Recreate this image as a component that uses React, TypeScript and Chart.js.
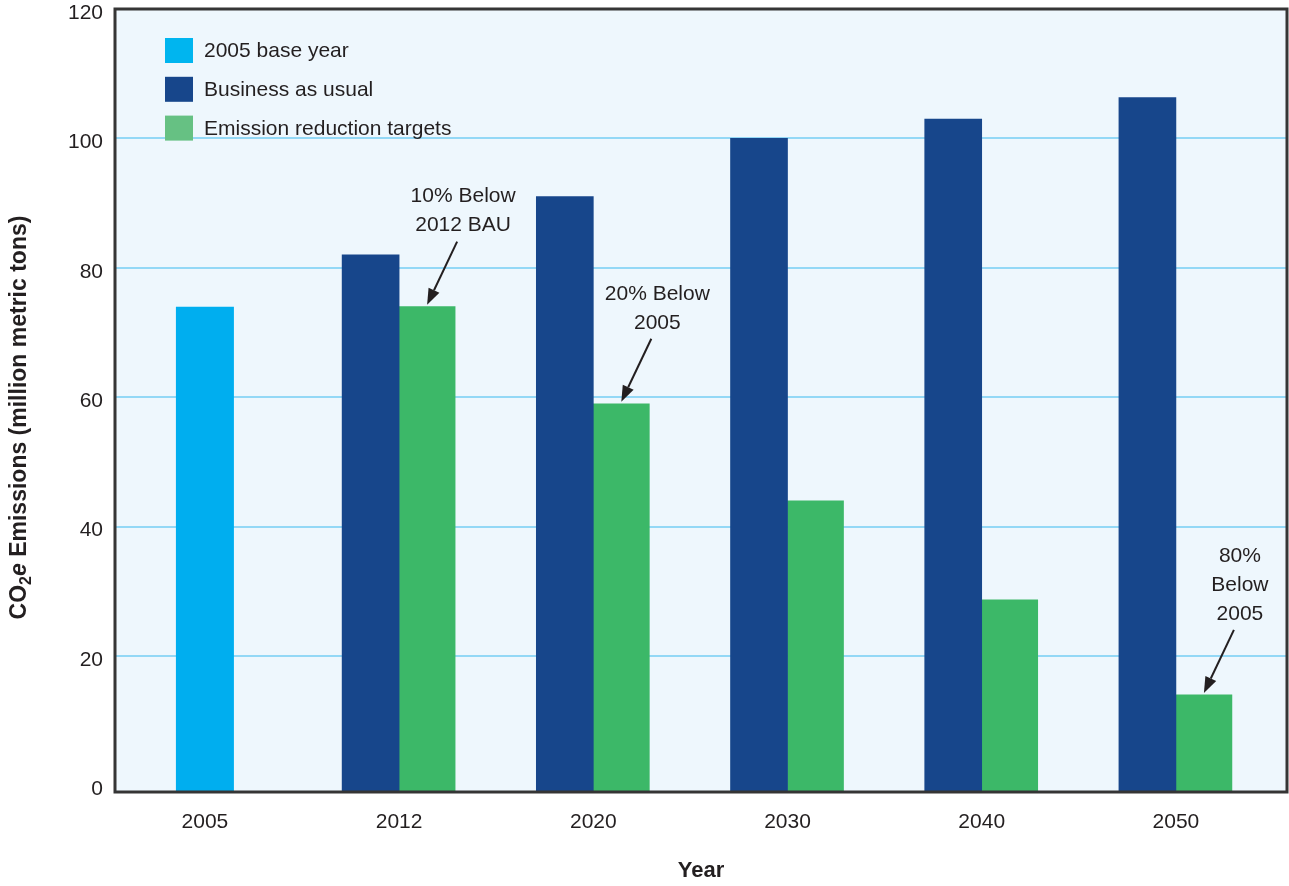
import { useEffect, useRef } from "react";
import { Chart, registerables } from "chart.js";

Chart.register(...registerables);

// ---- data ----
const YEARS = ["2005", "2012", "2020", "2030", "2040", "2050"];
const SERIES_LABELS = ["2005 base year", "Business as usual", "Emission reduction targets"];
const BASE_YEAR_VALUES: (number | null)[] = [74, null, null, null, null, null];
const BAU_VALUES: (number | null)[] = [null, 82, 91, 100, 103, 106.3];
const TARGET_VALUES: (number | null)[] = [null, 74, 59, 44, 28.7, 14];
const Y_TICKS = [0, 20, 40, 60, 80, 100, 120];
const ANNOTATION_YEARS = ["2012", "2020", "2050"];
const ANNOTATION_TEXTS = [["10% Below", "2012 BAU"], ["20% Below", "2005"], ["80%", "Below", "2005"]];
const Y_TITLE_PARTS = ["CO", "2", "e", " Emissions (million metric tons)"];
const X_TITLE = "Year";

const FONT = "'Liberation Sans', Arial, Helvetica, sans-serif";
const TEXT_COLOR = "#231f20";
const AXIS_FLOOR = -1;

const toPoints = (vals: (number | null)[]) => vals.map((v, i) => ({ x: i, y: v }));

const plotBackground = {
  id: "plotBackground",
  beforeDraw(chart: any, _a: any, opts: any) {
    const { ctx, chartArea: a } = chart;
    ctx.save();
    ctx.fillStyle = opts.color;
    ctx.fillRect(a.left, a.top, a.right - a.left, a.bottom - a.top);
    ctx.restore();
  },
};

const plotFrame = {
  id: "plotFrame",
  afterDatasetsDraw(chart: any, _a: any, opts: any) {
    const { ctx, chartArea: a } = chart;
    ctx.save();
    ctx.strokeStyle = opts.color;
    ctx.lineWidth = opts.width;
    ctx.strokeRect(a.left, a.top, a.right - a.left, a.bottom - a.top);
    ctx.restore();
  },
};

const boxLegend = {
  id: "boxLegend",
  afterDatasetsDraw(chart: any, _a: any, opts: any) {
    const { ctx, chartArea: a } = chart;
    ctx.save();
    ctx.font = opts.font;
    ctx.textBaseline = "middle";
    ctx.textAlign = "left";
    chart.data.datasets.forEach((ds: any, i: number) => {
      const cy = a.top + opts.firstY + i * opts.rowGap;
      ctx.fillStyle = opts.colors[i];
      ctx.fillRect(a.left + opts.boxX, cy - opts.boxH / 2, opts.boxW, opts.boxH);
      ctx.fillStyle = opts.textColor;
      ctx.fillText(ds.label, a.left + opts.textX, cy + 1);
    });
    ctx.restore();
  },
};

const barNotes = {
  id: "barNotes",
  afterDatasetsDraw(chart: any, _a: any, opts: any) {
    const { ctx } = chart;
    const meta = chart.getDatasetMeta(opts.datasetIndex);
    ctx.save();
    ctx.font = opts.font;
    ctx.textAlign = "center";
    ctx.textBaseline = "middle";
    ctx.fillStyle = opts.color;
    ctx.strokeStyle = opts.color;
    ANNOTATION_YEARS.forEach((yr, k) => {
      const idx = YEARS.indexOf(yr);
      const el = meta.data[idx];
      if (!el) return;
      const { x, y } = el.getProps(["x", "y"], true);
      const lines = ANNOTATION_TEXTS[k];
      lines.forEach((ln, j) => {
        const ly = y + opts.lastLineDy - (lines.length - 1 - j) * opts.lineGap;
        ctx.fillText(ln, x + opts.textDx, ly);
      });
      // arrow
      const sx = x + opts.arrowDx, sy = y + opts.arrowDy;
      const tx = x, ty = y - opts.tipGap;
      const ang = Math.atan2(ty - sy, tx - sx);
      const hl = opts.headLen, hw = opts.headW;
      const bx = tx - hl * Math.cos(ang), by = ty - hl * Math.sin(ang);
      ctx.lineWidth = opts.lineWidth;
      ctx.beginPath();
      ctx.moveTo(sx, sy);
      ctx.lineTo(bx, by);
      ctx.stroke();
      ctx.beginPath();
      ctx.moveTo(tx, ty);
      ctx.lineTo(bx + hw * Math.sin(ang), by - hw * Math.cos(ang));
      ctx.lineTo(bx - hw * Math.sin(ang), by + hw * Math.cos(ang));
      ctx.closePath();
      ctx.fill();
    });
    ctx.restore();
  },
};

const yTitle = {
  id: "yTitle",
  afterDraw(chart: any, _a: any, opts: any) {
    const { ctx, chartArea: a } = chart;
    const fonts = [opts.font, opts.subFont, opts.italicFont, opts.font];
    const shifts = [0, opts.subShift, 0, 0];
    ctx.save();
    let total = 0;
    const widths = Y_TITLE_PARTS.map((p, i) => {
      ctx.font = fonts[i];
      const w = ctx.measureText(p).width;
      total += w;
      return w;
    });
    ctx.translate(opts.x, (a.top + a.bottom) / 2 + opts.dy);
    ctx.rotate(-Math.PI / 2);
    ctx.fillStyle = opts.color;
    ctx.textBaseline = "alphabetic";
    ctx.textAlign = "left";
    let cx = -total / 2;
    Y_TITLE_PARTS.forEach((p, i) => {
      ctx.font = fonts[i];
      ctx.fillText(p, cx, opts.baseline + shifts[i]);
      cx += widths[i];
    });
    ctx.restore();
  },
};

export default function App() {
  const ref = useRef<HTMLCanvasElement | null>(null);

  useEffect(() => {
    if (!ref.current) return;
    const chart = new Chart(ref.current, {
      type: "bar",
      data: {
        datasets: [
          {
            label: SERIES_LABELS[0],
            data: toPoints(BASE_YEAR_VALUES) as any,
            backgroundColor: "#00aeef",
            grouped: false,
            maxBarThickness: 58,
            borderWidth: 0,
            base: AXIS_FLOOR,
          } as any,
          {
            label: SERIES_LABELS[1],
            data: toPoints(BAU_VALUES) as any,
            backgroundColor: "#17468b",
            barThickness: 57,
            borderWidth: 0,
            base: AXIS_FLOOR,
          },
          {
            label: SERIES_LABELS[2],
            data: toPoints(TARGET_VALUES) as any,
            backgroundColor: "#3cb868",
            barThickness: 56,
            borderWidth: 0,
            base: AXIS_FLOOR,
          },
        ],
      },
      options: {
        responsive: false,
        animation: false,
        layout: { padding: { top: 9, right: 2, left: 0, bottom: 0 } },
        scales: {
          x: {
            type: "linear",
            min: -0.463,
            max: 5.572,
            offset: false,
            grid: { display: false, drawTicks: false },
            border: { display: false },
            afterBuildTicks: (scale: any) => {
              scale.ticks = YEARS.map((_, i) => ({ value: i }));
            },
            afterFit: (scale: any) => {
              scale.height = 94;
              scale.paddingLeft = 0;
              scale.paddingRight = 0;
            },
            ticks: {
              autoSkip: false,
              maxRotation: 0,
              padding: 18,
              color: TEXT_COLOR,
              font: { family: FONT, size: 21 },
              callback: (v: any) => YEARS[v] ?? "",
            },
            title: {
              display: true,
              text: X_TITLE,
              color: TEXT_COLOR,
              font: { family: FONT, size: 22, weight: "bold" },
              padding: { top: 0, bottom: 2 },
            },
          },
          y: {
            min: AXIS_FLOOR,
            max: 120,
            afterBuildTicks: (scale: any) => {
              scale.ticks = Y_TICKS.map((v) => ({ value: v }));
            },
            afterFit: (scale: any) => {
              scale.width = 115;
              scale.paddingTop = 0;
              scale.paddingBottom = 0;
            },
            grid: {
              drawTicks: false,
              lineWidth: 2,
              color: (c: any) => (c.tick && c.tick.value === 0 ? "rgba(0,0,0,0)" : "#93d8f6"),
            },
            border: { display: false },
            ticks: {
              padding: 12,
              labelOffset: 4,
              color: TEXT_COLOR,
              font: { family: FONT, size: 21 },
            },
          },
        },
        plugins: {
          legend: { display: false },
          tooltip: { enabled: false },
          plotBackground: { color: "#eef7fd" },
          plotFrame: { color: "#353535", width: 3 },
          boxLegend: {
            font: `21px ${FONT}`,
            textColor: TEXT_COLOR,
            colors: ["#00b5ef", "#17468b", "#66c183"],
            firstY: 41.5,
            rowGap: 38.8,
            boxX: 50,
            boxW: 28,
            boxH: 25,
            textX: 89,
          },
          barNotes: {
            datasetIndex: 2,
            font: `21px ${FONT}`,
            color: "#231f20",
            textDx: 36,
            lastLineDy: -81,
            lineGap: 29,
            arrowDx: 30,
            arrowDy: -65,
            tipGap: 2,
            headLen: 16,
            headW: 6,
            lineWidth: 2,
          },
          yTitle: {
            x: 18,
            dy: 17,
            baseline: 8,
            subShift: 5,
            color: TEXT_COLOR,
            font: `bold 23px ${FONT}`,
            subFont: `bold 16px ${FONT}`,
            italicFont: `italic bold 23px ${FONT}`,
          },
        } as any,
      },
      plugins: [plotBackground, plotFrame, boxLegend, barNotes, yTitle],
    });
    return () => chart.destroy();
  }, []);

  return (
    <div style={{ position: "fixed", left: 0, top: 0, width: 1289, height: 886, background: "#ffffff" }}>
      <canvas ref={ref} width={1289} height={886} style={{ display: "block" }} />
    </div>
  );
}
